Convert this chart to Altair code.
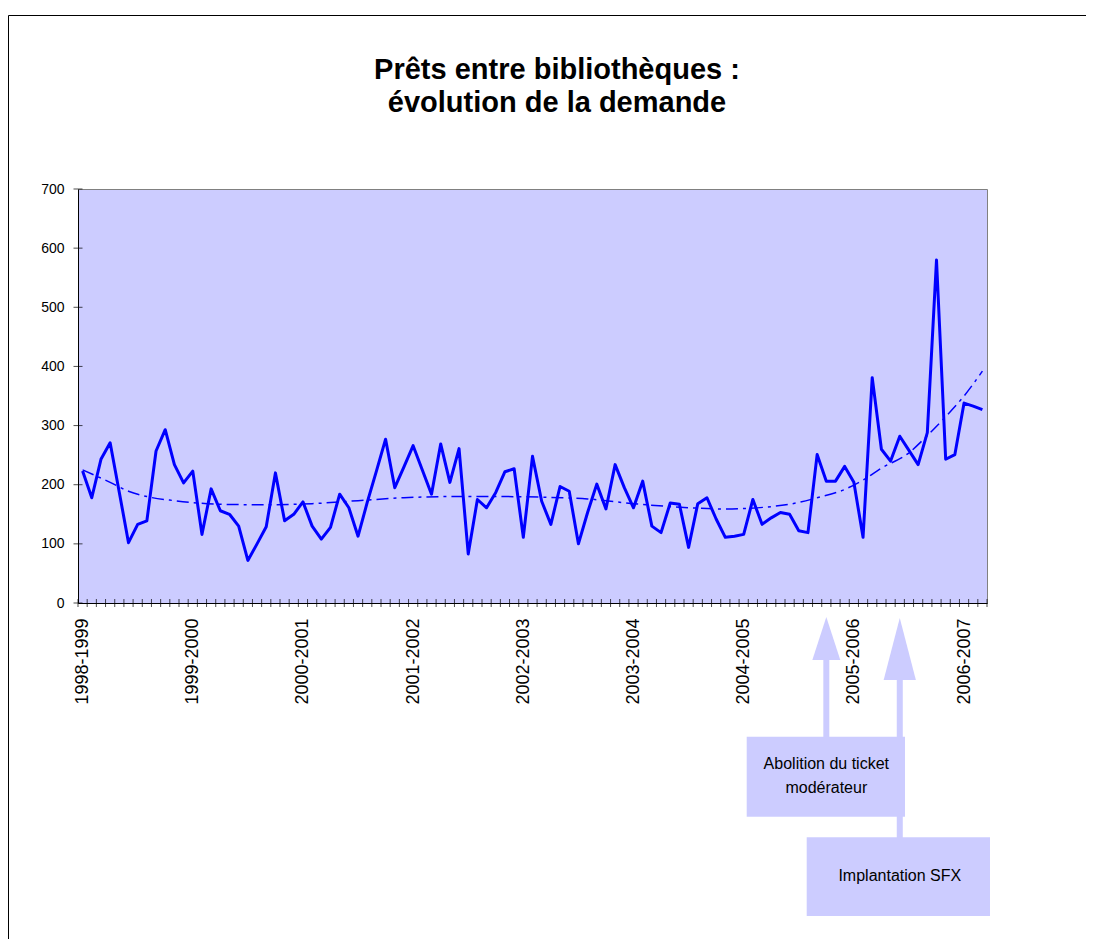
import altair as alt
import pandas as pd

# ---------------- data ----------------
seasons = ["1998-1999", "1999-2000", "2000-2001", "2001-2002", "2002-2003",
           "2003-2004", "2004-2005", "2005-2006", "2006-2007"]

demand = [223, 178, 243, 271, 187, 102, 133, 139, 257, 293,
          234, 203, 223, 116, 193, 156, 150, 130, 72, 100,
          129, 220, 139, 150, 171, 130, 108, 128, 184, 161,
          113, 170, 223, 277, 195, 230, 266, 225, 184, 269,
          204, 261, 83, 175, 161, 187, 222, 227, 111, 248,
          172, 133, 197, 189, 100, 153, 201, 159, 234, 195,
          161, 206, 130, 119, 169, 167, 94, 168, 178, 142,
          111, 113, 116, 175, 133, 144, 153, 150, 122, 119,
          251, 206, 206, 231, 204, 111, 381, 260, 240, 282,
          258, 234, 288, 580, 243, 251, 338, 333, 327]

trend_idx = [0, 3, 5, 7, 10, 15, 20, 25, 30, 35, 40, 45, 50, 55, 60, 65,
             70, 75, 78, 80, 83, 85, 87, 90, 92, 94, 96, 98]
trend_val = [225, 204, 189, 180, 173, 167, 166, 168, 173, 178, 180, 180, 179,
             176, 168, 162, 159, 163, 170, 178, 192, 208, 228, 254, 283, 315,
             350, 392]

y_ticks = [0, 100, 200, 300, 400, 500, 600, 700]
title_lines = ["Prêts entre bibliothèques :", "évolution de la demande"]
event1_lines = ["Abolition du ticket", "modérateur"]
event2_lines = ["Implantation SFX"]
event_idx = [81, 89]

# ---------------- tables ----------------
n = len(demand)
df = pd.DataFrame({"mois": list(range(n)), "demande": demand})
trend = pd.DataFrame({"mois": trend_idx, "demande": trend_val})
bounds = pd.DataFrame({"b": [k - 0.5 for k in range(n + 1)]})
yt = pd.DataFrame({"t": y_ticks})
one = pd.DataFrame({"a": [0]})

FONT = "Liberation Sans"
LAV = "#CCCCFF"
BLUE = "#0000FF"

xscale = alt.Scale(domain=[-0.5, n - 0.5], nice=False, zero=False)
yscale = alt.Scale(domain=[0, 700], nice=False)

label_expr = "[" + ",".join("'%s'" % s for s in seasons) + "][round(datum.value/12)]"

base = alt.Chart(df)

line = base.mark_line(color=BLUE, strokeWidth=3, strokeJoin="round").encode(
    x=alt.X("mois:Q", scale=xscale,
            axis=alt.Axis(values=[12 * k for k in range(len(seasons))],
                          labelExpr=label_expr, labelAngle=-90, labelFontSize=18,
                          labelPadding=15, tickSize=0, ticks=False, title=None,
                          domainColor="black", labelFont=FONT, labelColor="black",
                          grid=False, labelOverlap=False, labelFlush=False)),
    y=alt.Y("demande:Q", scale=yscale,
            axis=alt.Axis(values=y_ticks, labelFontSize=14, labelPadding=14,
                          tickSize=0, ticks=False, title=None, domainColor="black",
                          labelFont=FONT, labelColor="black", grid=False)),
)

trend_line = alt.Chart(trend).mark_line(
    color=BLUE, strokeWidth=1.5, strokeDash=[12, 5, 3, 5], interpolate="monotone"
).encode(x="mois:Q", y="demande:Q")

xticks = alt.Chart(bounds).mark_tick(
    orient="vertical", size=8, thickness=1, color="black"
).encode(x="b:Q", y=alt.YDatum(0))

yticks = alt.Chart(yt).mark_tick(
    orient="horizontal", size=9, thickness=1, color="black"
).encode(x=alt.XDatum(-0.5), y="t:Q")

# ---------------- annotations ----------------
ann = alt.Chart(one)
shaft1 = ann.mark_rule(color=LAV, strokeWidth=6).encode(
    x=alt.XDatum(event_idx[0]), y=alt.value(470), y2=alt.value(548))
head1 = ann.mark_point(shape="M0,-1L0.65,1L-0.65,1Z", size=1849, filled=True,
                       color=LAV, opacity=1, strokeWidth=0).encode(
    x=alt.XDatum(event_idx[0]), y=alt.value(449.5))
shaft2 = ann.mark_rule(color=LAV, strokeWidth=6).encode(
    x=alt.XDatum(event_idx[1]), y=alt.value(490), y2=alt.value(649))
head2 = ann.mark_point(shape="M0,-1L0.52,1L-0.52,1Z", size=3844, filled=True,
                       color=LAV, opacity=1, strokeWidth=0).encode(
    x=alt.XDatum(event_idx[1]), y=alt.value(460))
box1 = ann.mark_rect(color=LAV).encode(
    x=alt.value(668.7), x2=alt.value(827), y=alt.value(547.7), y2=alt.value(627.7))
box2 = ann.mark_rect(color=LAV).encode(
    x=alt.value(728.7), x2=alt.value(912), y=alt.value(648.3), y2=alt.value(727))
txt1a = ann.mark_text(font=FONT, fontSize=16, color="black").encode(
    x=alt.XDatum(event_idx[0]), y=alt.value(575), text=alt.value(event1_lines[0]))
txt1b = ann.mark_text(font=FONT, fontSize=16, color="black").encode(
    x=alt.XDatum(event_idx[0]), y=alt.value(599), text=alt.value(event1_lines[1]))
txt2 = ann.mark_text(font=FONT, fontSize=16, color="black").encode(
    x=alt.XDatum(event_idx[1]), y=alt.value(687), text=alt.value(event2_lines[0]))

title1 = ann.mark_text(font=FONT, fontSize=29, fontWeight="bold", color="black").encode(
    x=alt.value(479), y=alt.value(-119), text=alt.value(title_lines[0]))
title2 = ann.mark_text(font=FONT, fontSize=29, fontWeight="bold", color="black").encode(
    x=alt.value(479), y=alt.value(-86), text=alt.value(title_lines[1]))

frame = ann.mark_rect(fill=None, stroke="black", strokeWidth=1).encode(
    x=alt.value(-69.5), x2=alt.value(1011.5), y=alt.value(-173.5), y2=alt.value(800))

chart = alt.layer(
    frame, trend_line, line, xticks, yticks,
    shaft1, shaft2, box1, box2, head1, head2, txt1a, txt1b, txt2, title1, title2
).properties(
    width=909, height=414,
    autosize=alt.AutoSizeParams(type="none"),
    padding={"left": 70, "top": 181, "right": 99, "bottom": 336},
    background="white",
).configure_view(fill=LAV, stroke="#808080", strokeWidth=1)

chart.save("out.html", embed_options={"renderer": "svg", "actions": False})
